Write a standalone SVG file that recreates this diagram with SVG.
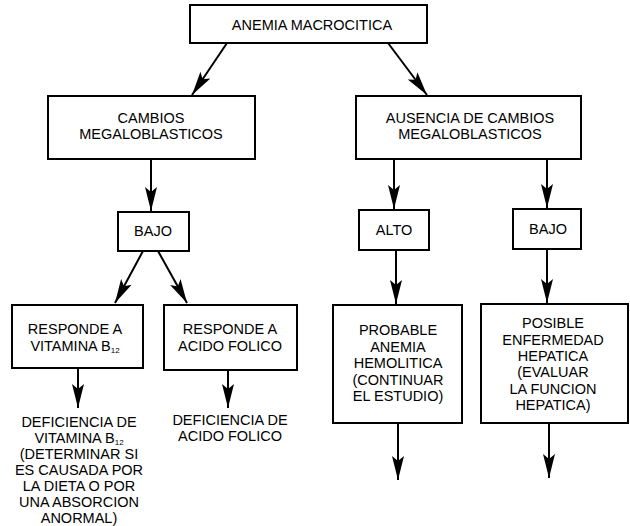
<svg xmlns="http://www.w3.org/2000/svg" width="630" height="526" viewBox="0 0 630 526">
<style>
.box{fill:#fff;stroke:#000;stroke-width:2}
.t{font-family:"Liberation Sans",Arial,Helvetica,sans-serif;font-size:14.5px;fill:#000;text-anchor:middle}
.c{stroke:#000;stroke-width:2;fill:none;marker-end:url(#ah)}
</style>
<defs>
<marker id="ah" markerUnits="userSpaceOnUse" markerWidth="26" markerHeight="14" refX="24" refY="7" orient="auto" viewBox="0 0 26 14">
<path d="M0,1 L24,7 L0,13 L5,7 Z" fill="#000"/>
</marker>
</defs>
<rect width="630" height="526" fill="#fff"/>
<g id="connectors">
<line class="c" x1="227" y1="43" x2="192" y2="95"/>
<line class="c" x1="388" y1="43" x2="427" y2="95"/>
<line class="c" x1="151" y1="159" x2="151" y2="211"/>
<line class="c" x1="394" y1="159" x2="394" y2="209"/>
<line class="c" x1="547" y1="159" x2="547" y2="208"/>
<line class="c" x1="143" y1="251" x2="115" y2="303"/>
<line class="c" x1="158" y1="251" x2="187" y2="303"/>
<line class="c" x1="396" y1="250" x2="396" y2="304"/>
<line class="c" x1="547" y1="249" x2="547" y2="303"/>
<line class="c" x1="78" y1="368" x2="78" y2="408"/>
<line class="c" x1="228" y1="370" x2="228" y2="408"/>
<line class="c" x1="398" y1="423" x2="398" y2="480"/>
<line class="c" x1="549" y1="423" x2="549" y2="478"/>
</g>
<g id="anemia">
<rect class="box" x="190" y="5" width="237" height="38"/>
<text class="t" x="312" y="30">ANEMIA MACROCITICA</text>
</g>
<g id="cambios">
<rect class="box" x="48" y="96" width="207" height="63"/>
<text class="t" x="151" y="123">CAMBIOS</text>
<text class="t" x="151" y="139">MEGALOBLASTICOS</text>
</g>
<g id="ausencia">
<rect class="box" x="356" y="96" width="225" height="63"/>
<text class="t" x="470" y="123">AUSENCIA DE CAMBIOS</text>
<text class="t" x="470" y="139">MEGALOBLASTICOS</text>
</g>
<g id="bajo1">
<rect class="box" x="118" y="212" width="71" height="39"/>
<text class="t" x="153" y="236">BAJO</text>
</g>
<g id="alto">
<rect class="box" x="359" y="210" width="70" height="40"/>
<text class="t" x="394" y="235">ALTO</text>
</g>
<g id="bajo2">
<rect class="box" x="513" y="209" width="68" height="40"/>
<text class="t" x="548" y="234">BAJO</text>
</g>
<g id="vitamina">
<rect class="box" x="12" y="305" width="131" height="63"/>
<text class="t" x="75" y="334">RESPONDE A</text>
<text class="t" x="75" y="351">VITAMINA B<tspan font-size="8" dy="2">12</tspan></text>
</g>
<g id="folico">
<rect class="box" x="164" y="305" width="133" height="65"/>
<text class="t" x="230" y="334">RESPONDE A</text>
<text class="t" x="230" y="351">ACIDO FOLICO</text>
</g>
<g id="def-vitamina">
<text class="t" x="79" y="427">DEFICIENCIA DE</text>
<text class="t" x="79" y="443">VITAMINA B<tspan font-size="8" dy="2">12</tspan></text>
<text class="t" x="79" y="459">(DETERMINAR SI</text>
<text class="t" x="79" y="475">ES CAUSADA POR</text>
<text class="t" x="79" y="491">LA DIETA O POR</text>
<text class="t" x="79" y="507">UNA ABSORCION</text>
<text class="t" x="79" y="523">ANORMAL)</text>
</g>
<g id="def-folico">
<text class="t" x="230" y="425">DEFICIENCIA DE</text>
<text class="t" x="230" y="441">ACIDO FOLICO</text>
</g>
<g id="hemolitica">
<rect class="box" x="333" y="305" width="129" height="118"/>
<text class="t" x="398" y="335">PROBABLE</text>
<text class="t" x="398" y="351.5">ANEMIA</text>
<text class="t" x="398" y="368">HEMOLITICA</text>
<text class="t" x="398" y="384.5">(CONTINUAR</text>
<text class="t" x="398" y="401">EL ESTUDIO)</text>
</g>
<g id="hepatica">
<rect class="box" x="481" y="304" width="147" height="119"/>
<text class="t" x="553" y="328">POSIBLE</text>
<text class="t" x="553" y="344.5">ENFERMEDAD</text>
<text class="t" x="553" y="361">HEPATICA</text>
<text class="t" x="553" y="377">(EVALUAR</text>
<text class="t" x="553" y="393.5">LA FUNCION</text>
<text class="t" x="553" y="410">HEPATICA)</text>
</g>
</svg>
